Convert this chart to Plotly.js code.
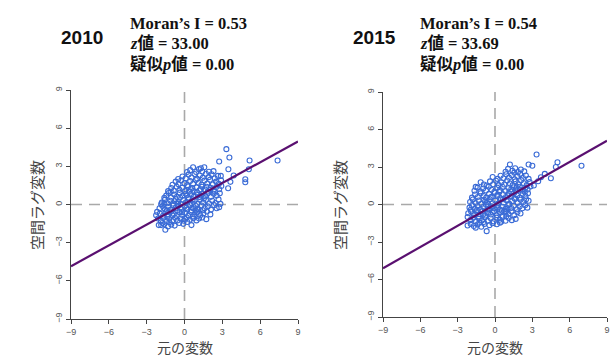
<!DOCTYPE html>
<html>
<head>
<meta charset="utf-8">
<script src="https://cdn.plot.ly/plotly-3.0.1.min.js"></script>
<style>html,body{margin:0;padding:0;background:#fff;}#chart{width:612px;height:358px;}</style>
</head>
<body>
<div id="chart"></div>
<script>
// ---- data ----
const years = ["2010", "2015"];
const moranI = ["0.53", "0.54"];
const zValue = ["33.00", "33.69"];
const pValue = ["0.00", "0.00"];
const tickVals = [-9, -6, -3, 0, 3, 6, 9];
const tickText = ["\u22129", "\u22126", "\u22123", "0", "3", "6", "9"];
const xTitle = "元の変数";
const yTitle = "空間ラグ変数";

const fitX = [-9, 9];
const fit2010Y = [-4.85, 4.95];
const fit2015Y = [-5.1, 5.1];

const pts2010 = [
[-1.52,-1.99],[-1.85,-1.62],[-1.60,-1.55],[-1.31,-1.72],[-1.05,-1.58],[-0.78,-1.66],[-0.42,-1.45],[-0.10,-1.52],[0.22,-1.38],[0.55,-1.62],[-2.04,-1.62],[-1.20,-1.40],
[-2.10,-1.10],[-1.88,-1.28],[-1.65,-1.05],[-1.45,-1.30],[-1.22,-1.12],[-0.98,-1.30],[-0.75,-1.05],[-0.55,-1.25],[-0.30,-1.10],[-0.05,-1.28],[0.18,-1.02],[0.42,-1.20],[0.70,-1.08],[0.95,-1.25],[1.15,-1.10],[1.40,-1.02],[1.73,-1.15],[-1.75,-1.45],[0.05,-1.12],
[-2.25,-0.84],[-2.17,-0.58],[-1.95,-0.72],[-1.70,-0.88],[-1.50,-0.62],[-1.28,-0.80],[-1.05,-0.55],[-0.85,-0.75],[-0.62,-0.90],[-0.40,-0.60],[-0.18,-0.82],[0.05,-0.66],[0.30,-0.88],[0.52,-0.58],[0.78,-0.78],[1.00,-0.62],[1.25,-0.85],[1.50,-0.70],[1.78,-0.55],[2.05,-0.78],[-1.35,-0.95],[0.65,-0.95],
[-1.98,-0.30],[-1.75,-0.12],[-1.55,-0.38],[-1.30,-0.18],[-1.10,-0.40],[-0.88,-0.05],[-0.70,-0.28],[-0.48,-0.10],[-0.25,-0.35],[0.00,-0.15],[0.22,-0.40],[0.45,-0.05],[0.68,-0.30],[0.90,-0.12],[1.12,-0.38],[1.35,-0.08],[1.60,-0.30],[1.85,-0.15],[2.10,-0.40],[2.35,-0.05],[2.75,-0.21],[2.55,-0.30],[-1.85,0.02],[1.45,-0.45],
[-1.80,0.15],[-1.55,0.38],[-1.35,0.10],[-1.12,0.30],[-0.92,0.08],[-0.70,0.42],[-0.50,0.20],[-0.30,0.05],[-0.10,0.35],[0.12,0.18],[0.35,0.42],[0.58,0.10],[0.80,0.30],[1.02,0.05],[1.25,0.40],[1.48,0.15],[1.70,0.35],[1.95,0.08],[2.20,0.30],[2.45,0.12],[2.70,0.40],[2.85,0.05],[-1.60,0.05],[0.40,0.00],
[-1.45,0.70],[-1.25,0.90],[-1.05,0.55],[-0.82,0.78],[-0.60,0.60],[-0.38,0.92],[-0.15,0.68],[0.08,0.85],[0.30,0.55],[0.52,0.80],[0.75,0.62],[0.98,0.95],[1.20,0.58],[1.42,0.82],[1.65,0.65],[1.88,0.90],[2.10,0.60],[2.32,0.85],[2.55,0.70],[2.80,0.88],[-1.60,0.52],[1.30,0.70],
[-1.30,1.05],[-1.05,1.30],[-0.85,1.08],[-0.62,1.40],[-0.40,1.15],[-0.18,1.32],[0.05,1.05],[0.28,1.42],[0.50,1.20],[0.72,1.05],[0.95,1.35],[1.18,1.12],[1.40,1.40],[1.62,1.18],[1.85,1.02],[2.08,1.32],[2.30,1.10],[2.52,1.38],[2.75,1.20],[2.92,1.45],[-1.10,1.00],[0.62,1.30],
[-0.95,1.55],[-0.70,1.80],[-0.48,1.60],[-0.25,1.90],[0.00,1.68],[0.22,1.52],[0.45,1.85],[0.68,1.62],[0.90,1.92],[1.12,1.70],[1.35,1.55],[1.58,1.88],[1.80,1.65],[2.02,1.95],[2.25,1.58],[2.50,1.80],[2.72,1.62],[2.90,1.90],[3.46,1.28],[3.64,1.78],
[-0.50,2.00],[-0.16,2.20],[0.10,2.05],[0.32,2.35],[0.55,2.12],[0.80,2.40],[1.00,2.02],[1.22,2.28],[1.45,2.10],[1.70,2.42],[1.92,2.15],[2.15,2.38],[2.40,2.05],[2.65,2.25],[2.88,2.25],[3.90,2.28],[4.82,1.99],[4.82,1.75],
[0.45,2.70],[0.68,2.93],[0.92,2.55],[1.15,2.78],[1.41,2.59],[1.57,2.93],[1.94,2.57],[2.30,2.62],[0.20,2.55],[1.30,2.85],
[2.75,3.38],[3.32,4.35],[3.56,3.69],[5.16,3.46],[7.38,3.46],[3.48,2.77],[5.10,2.77],
[-1.40,-0.48],[-0.95,-0.85],[-0.60,-0.45],[-0.20,-0.60],[0.15,-0.25],[0.55,-0.45],[1.00,-0.35],[-0.80,0.25],[-0.35,0.55],[0.20,0.75],[0.65,0.40],[1.05,0.75],[1.55,0.50],[2.00,1.15],[1.30,1.20],[0.35,1.00],[-0.55,0.05],[0.90,-0.50],[1.75,1.40],[2.40,1.00]
];

const pts2015 = [
[-0.67,-2.13],[-2.20,-1.68],[-1.95,-1.55],[-1.70,-1.72],[-1.40,-1.60],[-1.10,-1.78],[-0.85,-1.55],[-0.45,-1.65],[-0.20,-1.50],[0.15,-1.58],[0.40,-1.45],[-1.25,-1.45],[-1.55,-1.85],
[-2.20,-1.00],[-1.98,-1.25],[-1.75,-1.05],[-1.52,-1.35],[-1.30,-1.12],[-1.05,-1.28],[-0.80,-1.02],[-0.58,-1.30],[-0.35,-1.10],[-0.10,-1.35],[0.12,-1.05],[0.38,-1.22],[0.62,-1.00],[0.85,-1.30],[1.10,-1.08],[1.35,-1.25],[1.66,-1.15],[-0.90,-1.40],[0.50,-1.38],
[-2.15,-0.70],[-1.92,-0.55],[-1.68,-0.85],[-1.45,-0.60],[-1.22,-0.78],[-1.00,-0.52],[-0.78,-0.88],[-0.55,-0.65],[-0.32,-0.80],[-0.08,-0.55],[0.15,-0.85],[0.38,-0.62],[0.60,-0.90],[0.85,-0.58],[1.08,-0.75],[1.32,-0.55],[1.55,-0.85],[1.80,-0.62],[2.05,-0.72],[-1.30,-0.95],[0.90,-0.95],
[-2.05,-0.25],[-1.85,-0.05],[-1.62,-0.35],[-1.40,-0.12],[-1.18,-0.40],[-0.95,-0.20],[-0.72,-0.02],[-0.50,-0.38],[-0.28,-0.15],[-0.05,-0.32],[0.18,-0.08],[0.40,-0.40],[0.62,-0.18],[0.85,-0.35],[1.08,-0.05],[1.30,-0.28],[1.52,-0.10],[1.75,-0.38],[1.98,-0.15],[2.20,-0.30],[2.42,-0.05],[2.60,-0.25],[-1.95,-0.42],
[-2.00,0.20],[-1.78,0.40],[-1.55,0.12],[-1.32,0.32],[-1.10,0.05],[-0.88,0.38],[-0.65,0.18],[-0.42,0.42],[-0.20,0.10],[0.02,0.30],[0.25,0.08],[0.48,0.40],[0.70,0.15],[0.92,0.35],[1.15,0.05],[1.38,0.28],[1.60,0.45],[1.82,0.12],[2.05,0.38],[2.28,0.20],[2.50,0.42],[2.70,0.30],
[-1.85,0.55],[-1.60,0.80],[-1.38,0.60],[-1.15,0.90],[-0.92,0.68],[-0.70,0.55],[-0.48,0.85],[-0.25,0.62],[-0.02,0.92],[0.20,0.70],[0.42,0.52],[0.65,0.82],[0.88,0.60],[1.10,0.88],[1.32,0.65],[1.55,0.95],[1.78,0.72],[2.00,0.55],[2.22,0.85],[2.45,0.68],[2.65,0.90],
[-1.65,1.10],[-1.40,1.35],[-1.18,1.05],[-0.95,1.28],[-0.72,1.12],[-0.50,1.42],[-0.28,1.18],[-0.05,1.02],[0.18,1.35],[0.40,1.15],[0.62,1.40],[0.85,1.08],[1.08,1.30],[1.30,1.05],[1.52,1.38],[1.75,1.15],[1.98,1.42],[2.20,1.10],[2.42,1.32],[2.62,1.20],[2.85,1.45],
[-1.55,1.41],[-1.15,1.78],[-0.67,1.52],[-0.90,1.60],[-0.40,1.85],[-0.15,1.62],[0.08,1.90],[0.30,1.55],[0.52,1.78],[0.75,1.60],[0.98,1.92],[1.20,1.68],[1.42,1.55],[1.65,1.85],[1.88,1.62],[2.10,1.95],[2.32,1.70],[2.55,1.55],[2.78,1.80],[3.12,1.52],[3.47,1.86],
[-0.19,2.20],[0.20,2.05],[0.45,2.30],[0.68,2.10],[0.90,2.42],[1.12,2.15],[1.35,2.35],[1.58,2.02],[1.80,2.28],[2.02,2.45],[2.25,2.12],[2.48,2.32],[2.70,2.05],[3.69,2.18],[4.00,2.45],[4.49,2.10],
[0.85,2.62],[1.20,3.20],[1.05,2.85],[1.40,2.70],[1.62,2.90],[1.85,2.60],[2.08,2.80],[2.35,2.65],[2.70,3.20],[3.00,3.10],[1.55,2.55],
[3.34,4.00],[6.95,3.10],[5.02,3.38],[4.89,3.00],
[-1.45,-0.45],[-0.95,-0.80],[-0.60,-0.42],[-0.20,-0.62],[0.15,-0.22],[0.55,-0.48],[1.00,-0.30],[-0.80,0.22],[-0.35,0.58],[0.20,0.78],[0.65,0.42],[1.05,0.72],[1.55,0.52],[2.00,1.18],[1.30,1.22],[0.35,1.00],[-0.55,0.02],[0.90,-0.52],[1.75,1.42],[2.40,1.02]
];

// ---- drawing ----
const ptColor = "#3a6bd6";
const lineColor = "#5a1070";
const guideColor = "#a9a9a9";

function scatterTrace(pts, xa, ya) {
  return {
    type: "scatter", mode: "markers", xaxis: xa, yaxis: ya,
    x: pts.map(p => p[0]), y: pts.map(p => p[1]),
    marker: {symbol: "circle-open", size: 5, color: ptColor, line: {width: 1.1, color: ptColor}},
    hoverinfo: "skip", showlegend: false
  };
}
function fitTrace(fx, fy, xa, ya) {
  return {
    type: "scatter", mode: "lines", xaxis: xa, yaxis: ya,
    x: fx, y: fy, line: {color: lineColor, width: 2.2},
    hoverinfo: "skip", showlegend: false
  };
}

const data = [
  scatterTrace(pts2010, "x", "y"),
  fitTrace(fitX, fit2010Y, "x", "y"),
  scatterTrace(pts2015, "x2", "y2"),
  fitTrace(fitX, fit2015Y, "x2", "y2")
];

function axis(domain, anchor, isY) {
  return {
    domain: domain, anchor: anchor, range: [-9, 9], autorange: false,
    tickvals: tickVals, ticktext: tickText, ticks: "outside", ticklen: 4, tickwidth: 1,
    tickcolor: "#444", showline: true, linecolor: "#444", linewidth: 1,
    showgrid: false, zeroline: false, mirror: false,
    tickangle: isY ? -90 : 0,
    tickfont: {family: "Liberation Sans, Arial, sans-serif", size: 9, color: "#555"},
    fixedrange: true
  };
}

const W = 612, H = 358;
const px = v => v / W, py = v => (H - v) / H;

const layout = {
  width: W, height: H,
  margin: {l: 0, r: 0, t: 0, b: 0},
  paper_bgcolor: "#fff", plot_bgcolor: "#fff",
  showlegend: false,
  xaxis: axis([px(71), px(298)], "y", false),
  yaxis: axis([py(319), py(90)], "x", true),
  xaxis2: axis([px(383), px(607)], "y2", false),
  yaxis2: axis([py(317), py(92)], "x2", true),
  shapes: [],
  annotations: []
};

[["x", "y"], ["x2", "y2"]].forEach(([xa, ya]) => {
  layout.shapes.push({type: "line", xref: xa, yref: ya, x0: 0, x1: 0, y0: -9, y1: 9,
    line: {color: guideColor, width: 1.6, dash: "11px,7px"}, layer: "below"});
  layout.shapes.push({type: "line", xref: xa, yref: ya, x0: -9, x1: 9, y0: 0, y1: 0,
    line: {color: guideColor, width: 1.6, dash: "11px,7px"}, layer: "below"});
});

const panels = [
  {yearX: 82, statX: 128, xCenter: 184.5, yTitleX: 36, yCenter: 205},
  {yearX: 374, statX: 418, xCenter: 495, yTitleX: 339, yCenter: 205}
];
const serif = "Liberation Serif, Times New Roman, Noto Sans CJK JP, serif";
panels.forEach((p, i) => {
  layout.annotations.push({xref: "paper", yref: "paper", x: px(p.yearX), y: py(37),
    xanchor: "center", yanchor: "middle", showarrow: false,
    text: "<b>" + years[i] + "</b>",
    font: {family: "Liberation Sans, Arial, sans-serif", size: 19, color: "#111"}});
  const lines = [
    "<b>Moran\u2019s I = " + moranI[i] + "</b>",
    "<b><i>z</i>値 = " + zValue[i] + "</b>",
    "<b>疑似<i>p</i>値 = " + pValue[i] + "</b>"
  ];
  const ys = [23, 43.5, 64];
  lines.forEach((t, k) => {
    layout.annotations.push({xref: "paper", yref: "paper", x: px(p.statX), y: py(ys[k]),
      xanchor: "left", yanchor: "middle", showarrow: false, text: t,
      font: {family: serif, size: 16.5, color: "#111"}});
  });
  layout.annotations.push({xref: "paper", yref: "paper", x: px(p.xCenter), y: py(347),
    xanchor: "center", yanchor: "middle", showarrow: false, text: xTitle,
    font: {family: "Noto Sans CJK JP, sans-serif", size: 14, color: "#444"}});
  layout.annotations.push({xref: "paper", yref: "paper", x: px(p.yTitleX), y: py(p.yCenter),
    xanchor: "center", yanchor: "middle", showarrow: false, text: yTitle, textangle: -90,
    font: {family: "Noto Sans CJK JP, sans-serif", size: 15, color: "#444"}});
});

Plotly.newPlot("chart", data, layout, {staticPlot: true, displayModeBar: false});
</script>
</body>
</html>
